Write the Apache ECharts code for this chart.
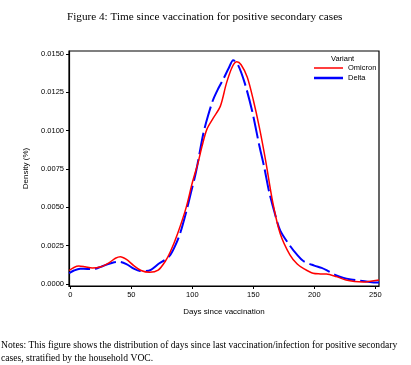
<!DOCTYPE html>
<html><head><meta charset="utf-8">
<script src="https://cdn.jsdelivr.net/npm/echarts@6/dist/echarts.min.js"></script>
<style>html,body{margin:0;padding:0;background:#fff}#c{width:411px;height:365px}</style>
</head><body><div id="c"></div>
<script>
const titleText = 'Figure 4: Time since vaccination for positive secondary cases';
const notesLine1 = 'Notes: This figure shows the distribution of days since last vaccination/infection for positive secondary';
const notesLine2 = 'cases, stratified by the household VOC.';
const xTicks = [0, 50, 100, 150, 200, 250];
const yTicks = [0, 0.0025, 0.005, 0.0075, 0.01, 0.0125, 0.015];
const seriesNames = ['Omicron', 'Delta'];

const omicronDays = [-1, 3, 7, 12, 18, 25, 32, 37, 41, 46, 52, 58, 65, 72, 78, 82, 88, 95, 100, 105, 108, 112, 117, 123, 128, 133, 136.5, 140, 145, 150, 155, 160, 166, 172, 180, 186, 191, 199, 205, 210, 218, 226, 233, 240, 246, 253];
const omicronDensity = [0.00088, 0.00108, 0.00117, 0.00112, 0.00104, 0.00112, 0.0014, 0.00168, 0.00178, 0.0016, 0.0012, 0.00088, 0.00076, 0.0009, 0.0015, 0.0021, 0.0033, 0.0050, 0.0066, 0.0080, 0.0090, 0.0101, 0.0108, 0.0116, 0.0131, 0.0142, 0.0145, 0.0143, 0.0135, 0.0120, 0.0102, 0.0081, 0.0053, 0.0033, 0.0019, 0.0013, 0.00102, 0.0007, 0.00066, 0.00065, 0.00048, 0.00026, 0.00016, 0.00013, 0.00018, 0.00026];

const deltaDays = [-1, 3, 8, 14, 19, 25, 31, 36, 40, 46, 52, 57, 62, 66, 73, 78, 82, 86, 90, 95, 99, 103, 109, 113, 117, 121, 125, 130, 133.5, 137.5, 143, 149, 155, 159, 163, 168, 172, 180, 186, 191, 200, 206, 210, 217, 224, 230, 237, 244, 251, 253];
const deltaDensity = [0.0007, 0.00088, 0.001, 0.00098, 0.00098, 0.00112, 0.0013, 0.00142, 0.00145, 0.0013, 0.001, 0.00085, 0.00085, 0.00092, 0.00135, 0.0016, 0.0019, 0.0025, 0.0033, 0.0047, 0.0060, 0.0073, 0.0098, 0.0110, 0.0120, 0.0127, 0.0133, 0.0141, 0.0146, 0.01428, 0.0131, 0.0113, 0.0090, 0.0076, 0.0060, 0.0045, 0.0035, 0.0025, 0.0019, 0.0015, 0.0012, 0.00105, 0.0009, 0.0006, 0.0004, 0.0003, 0.00022, 0.00015, 0.0001, 0.0001];

const pair = (xs, ys) => xs.map((x, i) => [x, ys[i]]);
const sans = 'Liberation Sans';
const serif = 'Liberation Serif';
// legend icons: horizontal bars of different thickness inside a 29x10 box
const thinBar = 'path://M0,0L0.01,0L0.01,0.01Z M0,4.3L29,4.3L29,5.7L0,5.7Z M0,10L0.01,10L0.01,9.99Z';
const thickBar = 'path://M0,0L0.01,0L0.01,0.01Z M0,3.8L29,3.8L29,6.2L0,6.2Z M0,10L0.01,10L0.01,9.99Z';

const chart = echarts.init(document.getElementById('c'), null, {renderer: 'canvas'});
chart.setOption({
  animation: false,
  backgroundColor: '#fff',
  title: {
    text: titleText, left: 62, top: 7,
    textStyle: {fontFamily: serif, fontSize: 11.2, fontWeight: 'normal', color: '#000'}
  },
  grid: {left: 69, right: 32, top: 51, bottom: 79, show: true, borderColor: '#000', borderWidth: 1.2, containLabel: false},
  xAxis: {
    type: 'value', min: -1.07, max: 253.03,
    name: 'Days since vaccination', nameLocation: 'middle', nameGap: 22,
    nameTextStyle: {fontFamily: sans, fontSize: 8, color: '#000'},
    axisLine: {show: true, onZero: false, lineStyle: {color: '#000', width: 1.2}},
    axisTick: {show: true, length: 3, customValues: xTicks, lineStyle: {color: '#000'}},
    axisLabel: {customValues: xTicks, fontFamily: sans, fontSize: 7.5, color: '#000', margin: 5},
    splitLine: {show: false}
  },
  yAxis: {
    type: 'value', min: -0.00013, max: 0.015196,
    name: 'Density (%)', nameLocation: 'middle', nameGap: 39, nameRotate: 90,
    nameTextStyle: {fontFamily: sans, fontSize: 8, color: '#000'},
    axisLine: {show: true, onZero: false, lineStyle: {color: '#000', width: 1.2}},
    axisTick: {show: true, length: 3, customValues: yTicks, lineStyle: {color: '#000'}},
    axisLabel: {customValues: yTicks, fontFamily: sans, fontSize: 7.5, color: '#000', margin: 5,
      formatter: v => v.toFixed(4)},
    splitLine: {show: false}
  },
  legend: {
    orient: 'vertical', left: 314, top: 63, itemWidth: 29, itemHeight: 10, itemGap: 0,
    padding: 0, symbolKeepAspect: false,
    itemStyle: {borderWidth: 0},
    textStyle: {fontFamily: sans, fontSize: 7.5, color: '#000'},
    data: [
      {name: seriesNames[0], icon: thinBar, itemStyle: {color: '#ff0000', borderWidth: 0}},
      {name: seriesNames[1], icon: thickBar, itemStyle: {color: '#0000ff', borderWidth: 0}}
    ]
  },
  graphic: [
    {type: 'text', left: 331, top: 55, style: {text: 'Variant', font: '7.5px "Liberation Sans"', fill: '#000'}},
    {type: 'text', left: 1, top: 340, style: {text: notesLine1, font: '9.6px "Liberation Serif"', fill: '#000'}},
    {type: 'text', left: 1, top: 353, style: {text: notesLine2, font: '9.6px "Liberation Serif"', fill: '#000'}}
  ],
  series: [
    {name: seriesNames[0], type: 'line', data: pair(omicronDays, omicronDensity), smooth: 0.3, symbol: 'none',
     lineStyle: {color: '#ff0000', width: 1.5}, itemStyle: {color: '#ff0000'}, z: 3},
    {name: seriesNames[1], type: 'line', data: pair(deltaDays, deltaDensity), smooth: 0.3, symbol: 'none',
     lineStyle: {color: '#0000ff', width: 2, type: [22, 5]}, itemStyle: {color: '#0000ff'}, z: 2}
  ]
});
</script></body></html>
